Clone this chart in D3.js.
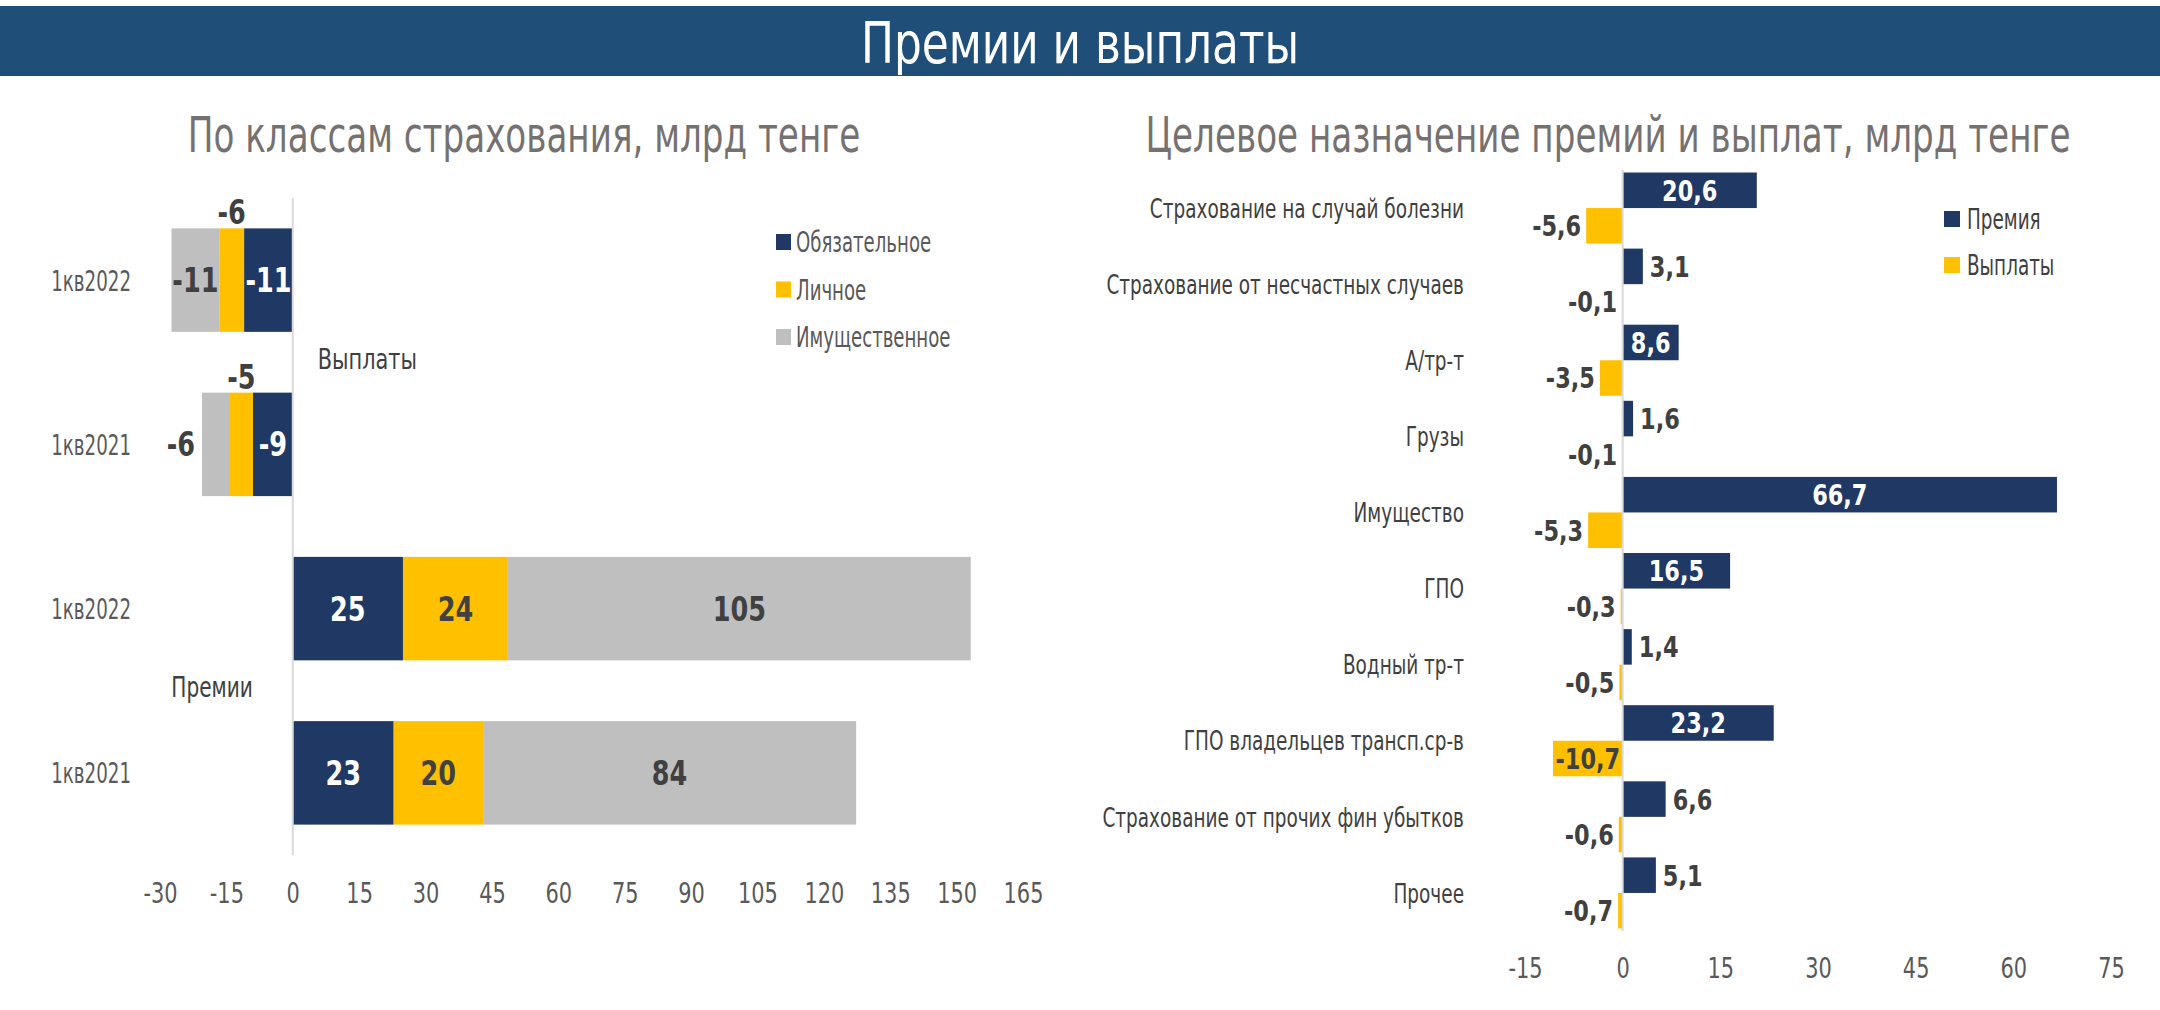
<!DOCTYPE html>
<html><head><meta charset="utf-8">
<script src="https://cdn.jsdelivr.net/npm/d3@7"></script>
<style>html,body{margin:0;padding:0;background:#fff;} svg{display:block}</style>
</head><body>
<svg id="c" width="2160" height="1010"></svg>
<script>
// ---------- DATA ----------
const headerTitle = "Премии и выплаты";
const leftTitle = "По классам страхования, млрд тенге";
const rightTitle = "Целевое назначение премий и выплат, млрд тенге";

const leftGroups = ["Выплаты", "Выплаты", "Премии", "Премии"];
const leftPeriods = ["1кв2022", "1кв2021", "1кв2022", "1кв2021"];
const leftSeries = ["Обязательное", "Личное", "Имущественное"];
const obligatory = [-11.0, -9.0, 24.9, 22.8];
const personal = [-5.6, -5.2, 23.7, 20.2];
const property = [-10.8, -6.3, 104.6, 84.3];
const leftTicks = [-30, -15, 0, 15, 30, 45, 60, 75, 90, 105, 120, 135, 150, 165];

const rightCategories = [
  "Страхование на случай болезни",
  "Страхование от несчастных случаев",
  "А/тр-т",
  "Грузы",
  "Имущество",
  "ГПО",
  "Водный тр-т",
  "ГПО владельцев трансп.ср-в",
  "Страхование от прочих фин убытков",
  "Прочее"
];
const rightSeries = ["Премия", "Выплаты"];
const premiums = [20.6, 3.1, 8.6, 1.6, 66.7, 16.5, 1.4, 23.2, 6.6, 5.1];
const payouts = [-5.6, -0.1, -3.5, -0.1, -5.3, -0.3, -0.5, -10.7, -0.6, -0.7];
const rightTicks = [-15, 0, 15, 30, 45, 60, 75];

// ---------- STYLE ----------
const NAVY = "#1F3864", GOLD = "#FFC000", GREY = "#BFBFBF", BANNER = "#1F4E79";
const colorLeft = d3.scaleOrdinal().domain(leftSeries).range([NAVY, GOLD, GREY]);
const colorRight = d3.scaleOrdinal().domain(rightSeries).range([NAVY, GOLD]);
const FONT = "'DejaVu Sans Condensed', 'DejaVu Sans', sans-serif";
const SX_TEXT = 0.74, SX_NUM = 0.86, SX_TICK = 0.83;

const svg = d3.select("#c").style("font-family", FONT);

// text helper: horizontally condensed text
function T(parent, x, y, str, o) {
  return parent.append("text")
    .attr("transform", `translate(${x},${y}) scale(${o.sx ?? SX_TEXT},1)`)
    .attr("dy", o.dy ?? "0.36em")
    .attr("text-anchor", o.anchor || "start")
    .attr("font-size", o.size)
    .attr("font-weight", o.weight || "normal")
    .attr("fill", o.fill || "#404040")
    .text(str);
}

// ---------- BANNER ----------
svg.append("rect").attr("x", 0).attr("y", 6).attr("width", 2160).attr("height", 70).attr("fill", BANNER);
T(svg, 1080, 63, headerTitle, { anchor: "middle", fill: "#fff", size: 56, sx: 0.87, dy: 0 });

// ---------- LEFT CHART ----------
T(svg, 524, 152, leftTitle, { anchor: "middle", fill: "#767171", size: 50, sx: 0.76, dy: 0 });

const xL = d3.scaleLinear().domain([-30, 165]).range([160, 1023]);
const yL = d3.scaleBand().domain(d3.range(leftPeriods.length)).range([198, 855])
  .paddingInner(0.37).paddingOuter(0.185);

const rowsL = leftPeriods.map((p, i) => ({
  i, "Обязательное": obligatory[i], "Личное": personal[i], "Имущественное": property[i]
}));
const stackL = d3.stack().keys(leftSeries).offset(d3.stackOffsetDiverging)(rowsL);

const gL = svg.append("g");
stackL.forEach(s => {
  gL.selectAll(null).data(s).join("rect")
    .attr("x", d => xL(Math.min(d[0], d[1])))
    .attr("width", d => Math.abs(xL(d[1]) - xL(d[0])))
    .attr("y", d => yL(d.data.i))
    .attr("height", yL.bandwidth())
    .attr("fill", colorLeft(s.key));
});

gL.append("line").attr("x1", xL(0)).attr("x2", xL(0))
  .attr("y1", yL.range()[0]).attr("y2", yL.range()[1])
  .attr("stroke", "#D9D9D9").attr("stroke-width", 2);

stackL.forEach(s => {
  s.forEach(d => {
    const v = d.data[s.key];
    const txt = String(Math.round(v));
    const top = yL(d.data.i), mid = top + yL.bandwidth() / 2;
    let x, y, anchor = "middle";
    if (s.key === "Личное" && v < 0) {
      x = (xL(d[0]) + xL(d[1])) / 2; y = top - 16;
    } else if (v < 0 && Math.abs(v) < 8) {
      x = xL(Math.min(d[0], d[1])) - 7; y = mid; anchor = "end";
    } else {
      x = (xL(d[0]) + xL(d[1])) / 2; y = mid;
    }
    T(gL, x, y, txt, { anchor, size: 33, weight: "bold", sx: SX_NUM,
      fill: s.key === "Обязательное" ? "#fff" : "#404040" });
  });
});

leftPeriods.forEach((p, i) => {
  T(gL, 131, yL(i) + yL.bandwidth() / 2, p, { anchor: "end", size: 29, fill: "#595959", sx: 0.7 });
});
const groupNames = Array.from(new Set(leftGroups));
groupNames.forEach((g, gi) => {
  const idx = leftGroups.map((v, i) => v === g ? i : -1).filter(i => i >= 0);
  const yc = (yL(idx[0]) + yL(idx[idx.length - 1]) + yL.bandwidth()) / 2 - 4;
  if (gi === 0) T(gL, xL(0) + 25, yc, g, { size: 29, sx: 0.8 });
  else T(gL, xL(0) - 40, yc, g, { anchor: "end", size: 29, sx: 0.77 });
});

const axL = svg.append("g").attr("transform", "translate(0,870)")
  .call(d3.axisBottom(xL).tickValues(leftTicks).tickSize(0).tickPadding(13).tickFormat(d => String(d)));
axL.select(".domain").remove();
axL.selectAll("text").attr("font-size", 28).attr("fill", "#595959")
  .attr("font-family", FONT).attr("transform", `scale(${SX_TICK},1)`);

leftSeries.forEach((s, i) => {
  const yc = 242 + i * 47.5;
  svg.append("rect").attr("x", 776).attr("y", yc - 8).attr("width", 15).attr("height", 16).attr("fill", colorLeft(s));
  T(svg, 796, yc, s, { size: 28, fill: "#595959", sx: 0.72 });
});

// ---------- RIGHT CHART ----------
T(svg, 1608, 152, rightTitle, { anchor: "middle", fill: "#767171", size: 50, sx: 0.76, dy: 0 });

const xR = d3.scaleLinear().domain([-15, 75]).range([1525, 2111]);
const yR = d3.scaleBand().domain(d3.range(rightCategories.length)).range([170, 931])
  .paddingInner(0.066).paddingOuter(0.033);
const ySub = d3.scaleBand().domain(rightSeries).range([0, yR.bandwidth()]).padding(0);

const gR = svg.append("g");
const rowsR = rightCategories.map((c, i) => ({ i, c, vals: [premiums[i], payouts[i]] }));

rowsR.forEach(r => {
  rightSeries.forEach((s, k) => {
    const v = r.vals[k];
    gR.append("rect")
      .attr("x", xR(Math.min(0, v)))
      .attr("width", Math.abs(xR(v) - xR(0)))
      .attr("y", yR(r.i) + ySub(s))
      .attr("height", ySub.bandwidth())
      .attr("fill", colorRight(s));
  });
});

gR.append("line").attr("x1", xR(0)).attr("x2", xR(0))
  .attr("y1", yR.range()[0]).attr("y2", yR.range()[1])
  .attr("stroke", "#D9D9D9").attr("stroke-width", 2);

const fmt1 = v => v.toFixed(1).replace(".", ",");
rowsR.forEach(r => {
  rightSeries.forEach((s, k) => {
    const v = r.vals[k];
    const yc = yR(r.i) + ySub(s) + ySub.bandwidth() / 2;
    let x, anchor, fill;
    if (v >= 0) {
      if (v >= 8) { x = (xR(0) + xR(v)) / 2; anchor = "middle"; fill = "#fff"; }
      else { x = xR(v) + 7; anchor = "start"; fill = "#404040"; }
    } else {
      if (Math.abs(v) >= 10) { x = (xR(0) + xR(v)) / 2; anchor = "middle"; fill = "#404040"; }
      else { x = xR(v) - 5; anchor = "end"; fill = "#404040"; }
    }
    T(gR, x, yc, fmt1(v), { anchor, size: 29, weight: "bold", fill, sx: SX_NUM });
  });
});

rightCategories.forEach((c, i) => {
  T(gR, 1464, yR(i) + yR.bandwidth() / 2, c, { anchor: "end", size: 27, fill: "#404040", sx: 0.76 });
});

const axR = svg.append("g").attr("transform", "translate(0,945)")
  .call(d3.axisBottom(xR).tickValues(rightTicks).tickSize(0).tickPadding(13).tickFormat(d => String(d)));
axR.select(".domain").remove();
axR.selectAll("text").attr("font-size", 28).attr("fill", "#595959")
  .attr("font-family", FONT).attr("transform", `scale(${SX_TICK},1)`);

rightSeries.forEach((s, i) => {
  const yc = 219 + i * 46;
  svg.append("rect").attr("x", 1944).attr("y", yc - 8).attr("width", 16).attr("height", 16).attr("fill", colorRight(s));
  T(svg, 1967, yc, s, { size: 28, fill: "#404040", sx: 0.73 });
});
</script>
</body></html>
